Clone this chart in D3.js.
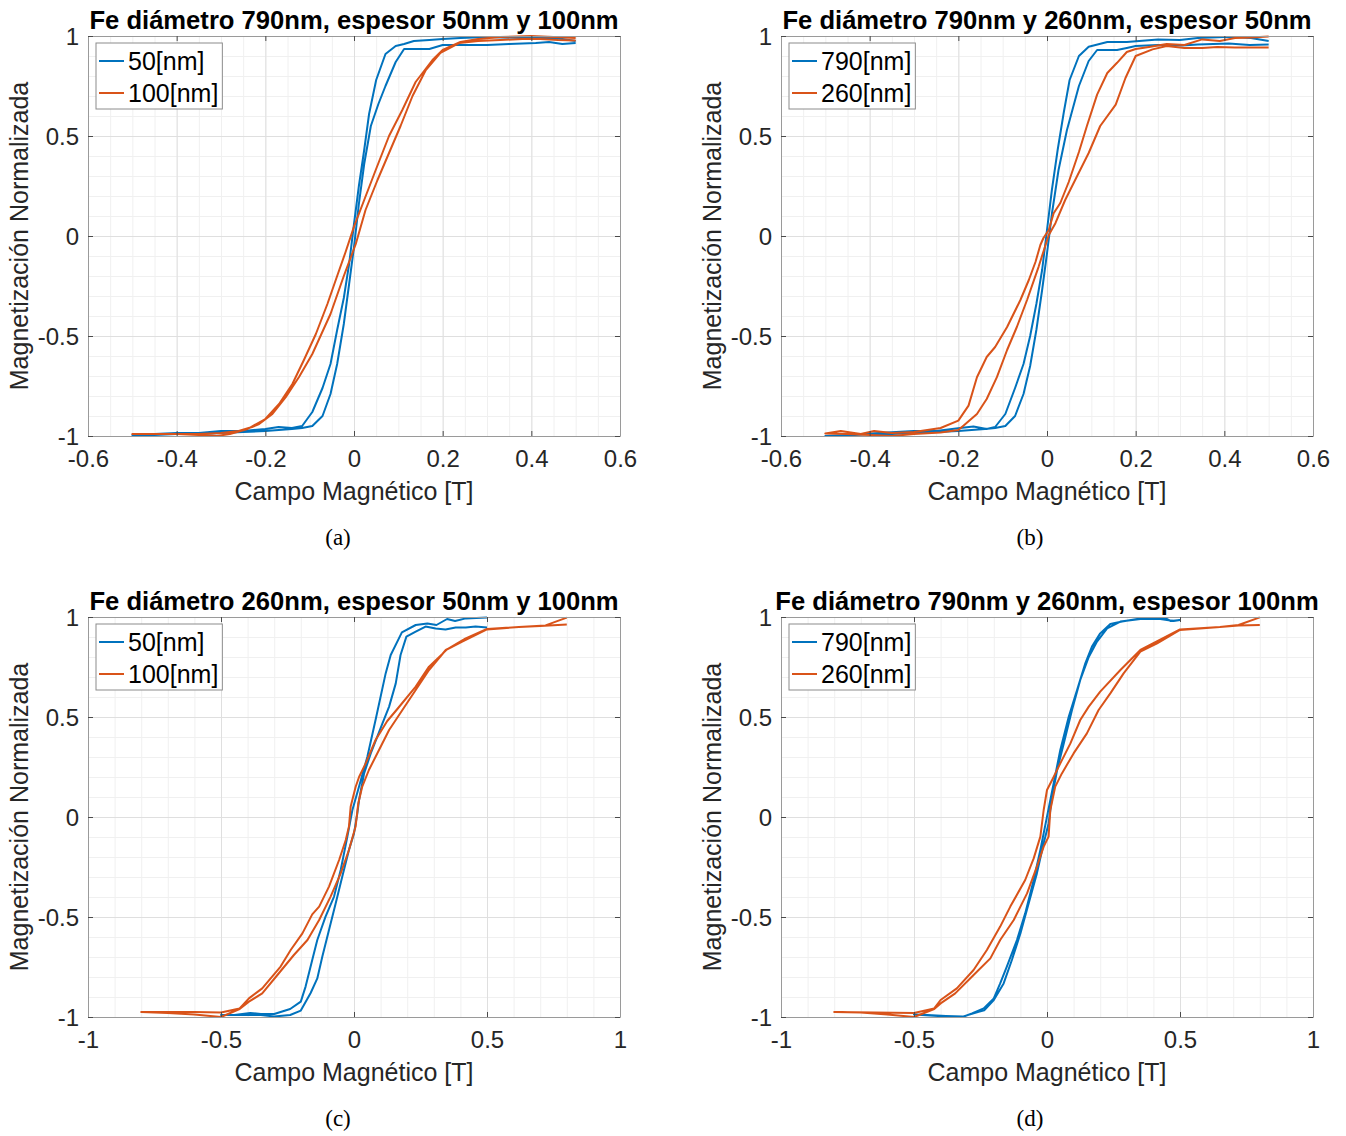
<!DOCTYPE html>
<html>
<head>
<meta charset="utf-8">
<script src="https://cdn.jsdelivr.net/npm/d3@7"></script>
<style>
  body { margin: 0; background: #fff; }
  text { font-family: "Liberation Sans", Arial, sans-serif; }
</style>
</head>
<body>
<script>
// tick values / labels
const yTicks = [-1, -0.5, 0, 0.5, 1];
const xTicksSmall = [-0.6, -0.4, -0.2, 0, 0.2, 0.4, 0.6];
const xTicksLarge = [-1, -0.5, 0, 0.5, 1];

// (a) Fe 790nm, 50nm vs 100nm  -- [campo, magnetizacion], bajada y luego subida
const a50 = [
  [0.5,0.975],[0.47,0.985],[0.44,0.99],[0.38,0.99],[0.3,0.995],[0.24,0.99],[0.2,0.985],[0.17,0.98],[0.135,0.975],
  [0.113,0.96],[0.094,0.95],[0.071,0.91],[0.05,0.78],[0.034,0.61],[0.023,0.43],[0.011,0.25],[0,0.06],[-0.011,-0.14],
  [-0.023,-0.31],[-0.038,-0.47],[-0.053,-0.64],[-0.071,-0.76],[-0.094,-0.88],[-0.117,-0.95],[-0.14,-0.96],[-0.17,-0.955],
  [-0.2,-0.965],[-0.25,-0.975],[-0.3,-0.975],[-0.35,-0.985],[-0.4,-0.985],[-0.45,-0.99],[-0.5,-0.995],
  [-0.45,-0.995],[-0.4,-0.99],[-0.35,-0.99],[-0.3,-0.985],[-0.25,-0.98],[-0.2,-0.975],[-0.17,-0.97],[-0.14,-0.965],
  [-0.117,-0.96],[-0.094,-0.95],[-0.071,-0.9],[-0.053,-0.79],[-0.038,-0.64],[-0.023,-0.44],[-0.011,-0.24],[0,-0.055],
  [0.011,0.16],[0.023,0.36],[0.038,0.55],[0.055,0.66],[0.071,0.75],[0.094,0.87],[0.113,0.935],[0.14,0.935],[0.17,0.935],
  [0.2,0.955],[0.24,0.955],[0.3,0.955],[0.35,0.96],[0.41,0.965],[0.44,0.97],[0.47,0.96],[0.5,0.965]
];
const a100 = [
  [0.5,0.99],[0.45,0.995],[0.4,1.0],[0.33,0.995],[0.28,0.985],[0.24,0.97],[0.2,0.93],[0.177,0.88],[0.139,0.77],
  [0.109,0.63],[0.079,0.5],[0.049,0.33],[0.023,0.18],[0,0.047],[-0.019,-0.08],[-0.038,-0.2],[-0.06,-0.34],[-0.086,-0.49],
  [-0.113,-0.62],[-0.139,-0.74],[-0.169,-0.84],[-0.2,-0.915],[-0.24,-0.965],[-0.28,-0.99],[-0.31,-1.0],[-0.35,-0.995],
  [-0.4,-0.99],[-0.45,-0.99],[-0.5,-0.99],
  [-0.45,-0.99],[-0.4,-0.99],[-0.35,-0.99],[-0.3,-0.985],[-0.26,-0.975],[-0.23,-0.955],[-0.214,-0.94],[-0.184,-0.89],
  [-0.154,-0.806],[-0.124,-0.705],[-0.094,-0.59],[-0.053,-0.39],[-0.023,-0.2],[0.004,-0.04],[0.026,0.13],[0.053,0.28],
  [0.079,0.415],[0.105,0.55],[0.132,0.7],[0.162,0.83],[0.195,0.916],[0.237,0.965],[0.28,0.975],[0.33,0.98],[0.38,0.985],
  [0.42,0.985],[0.46,0.98],[0.5,0.978]
];

// (b) Fe espesor 50nm, 790nm vs 260nm
const b790 = [
  [0.5,0.975],[0.46,0.99],[0.42,0.995],[0.4,0.995],[0.34,0.99],[0.3,0.98],[0.25,0.983],[0.18,0.97],[0.136,0.97],
  [0.094,0.946],[0.072,0.9],[0.051,0.78],[0.038,0.62],[0.024,0.43],[0.011,0.23],[0,0.03],[-0.011,-0.17],[-0.024,-0.34],
  [-0.038,-0.5],[-0.053,-0.64],[-0.072,-0.76],[-0.094,-0.89],[-0.117,-0.955],[-0.136,-0.965],[-0.166,-0.953],[-0.196,-0.96],
  [-0.25,-0.975],[-0.3,-0.975],[-0.38,-0.985],[-0.45,-0.995],[-0.5,-1.0],
  [-0.45,-0.998],[-0.4,-0.99],[-0.35,-0.99],[-0.3,-0.985],[-0.25,-0.98],[-0.2,-0.975],[-0.17,-0.97],[-0.14,-0.965],
  [-0.117,-0.96],[-0.094,-0.95],[-0.072,-0.9],[-0.053,-0.79],[-0.038,-0.65],[-0.024,-0.47],[-0.011,-0.27],[0,-0.087],
  [0.011,0.11],[0.026,0.33],[0.045,0.53],[0.072,0.75],[0.094,0.875],[0.113,0.93],[0.158,0.93],[0.18,0.94],[0.2,0.95],
  [0.25,0.955],[0.305,0.952],[0.34,0.958],[0.41,0.962],[0.457,0.955],[0.5,0.958]
];
const b260 = [
  [0.5,0.997],[0.46,0.993],[0.424,0.99],[0.39,0.975],[0.35,0.983],[0.31,0.955],[0.27,0.96],[0.23,0.945],[0.2,0.935],
  [0.18,0.92],[0.158,0.866],[0.136,0.815],[0.113,0.707],[0.09,0.55],[0.072,0.42],[0.049,0.27],[0.03,0.165],[0.015,0.114],
  [0.004,0.03],[-0.008,-0.01],[-0.015,-0.045],[-0.026,-0.13],[-0.041,-0.22],[-0.06,-0.32],[-0.09,-0.455],[-0.117,-0.555],
  [-0.136,-0.605],[-0.158,-0.706],[-0.177,-0.848],[-0.2,-0.923],[-0.24,-0.96],[-0.3,-0.98],[-0.35,-0.985],[-0.39,-0.975],
  [-0.42,-0.99],[-0.465,-0.975],[-0.5,-0.988],
  [-0.45,-0.99],[-0.4,-0.995],[-0.35,-1.0],[-0.3,-0.99],[-0.24,-0.983],[-0.2,-0.97],[-0.188,-0.948],[-0.158,-0.89],
  [-0.136,-0.815],[-0.113,-0.706],[-0.09,-0.57],[-0.068,-0.455],[-0.045,-0.32],[-0.019,-0.154],[0.004,0.005],[0.019,0.064],
  [0.041,0.18],[0.068,0.3],[0.094,0.415],[0.12,0.55],[0.155,0.657],[0.177,0.79],[0.2,0.9],[0.238,0.933],[0.27,0.95],
  [0.31,0.94],[0.35,0.94],[0.384,0.945],[0.424,0.942],[0.5,0.942]
];

// (c) Fe 260nm, 50nm vs 100nm
const c50 = [
  [0.5,0.998],[0.42,0.993],[0.38,0.98],[0.35,0.99],[0.31,0.96],[0.276,0.968],[0.232,0.96],[0.18,0.923],[0.138,0.81],
  [0.119,0.718],[0.081,0.485],[0.05,0.3],[0.019,0.152],[-0.006,0.035],[-0.025,-0.098],[-0.05,-0.265],[-0.075,-0.398],
  [-0.107,-0.498],[-0.138,-0.615],[-0.157,-0.715],[-0.182,-0.848],[-0.2,-0.923],[-0.24,-0.96],[-0.3,-0.985],[-0.35,-0.985],
  [-0.39,-0.98],[-0.45,-0.99],[-0.5,-0.99],
  [-0.43,-0.99],[-0.35,-0.99],[-0.3,-0.997],[-0.24,-0.99],[-0.2,-0.968],[-0.163,-0.88],[-0.138,-0.807],[-0.119,-0.698],
  [-0.094,-0.565],[-0.069,-0.432],[-0.044,-0.298],[-0.019,-0.165],[0,-0.082],[0.0125,0.018],[0.019,0.085],[0.038,0.218],
  [0.063,0.318],[0.107,0.468],[0.132,0.552],[0.157,0.668],[0.175,0.81],[0.197,0.902],[0.232,0.927],[0.269,0.952],
  [0.307,0.942],[0.344,0.938],[0.382,0.947],[0.42,0.947],[0.457,0.952],[0.5,0.948]
];
const c100 = [
  [0.8,0.963],[0.7,0.955],[0.62,0.95],[0.5,0.94],[0.42,0.893],[0.35,0.838],[0.282,0.752],[0.232,0.652],[0.163,0.54],
  [0.125,0.48],[0.081,0.385],[0.044,0.268],[0.019,0.2],[0.006,0.15],[-0.0125,0.052],[-0.019,-0.048],[-0.031,-0.115],
  [-0.056,-0.215],[-0.094,-0.348],[-0.131,-0.448],[-0.157,-0.487],[-0.194,-0.582],[-0.238,-0.665],[-0.276,-0.748],
  [-0.345,-0.857],[-0.395,-0.907],[-0.43,-0.957],[-0.5,-0.978],[-0.6,-0.975],[-0.7,-0.975],[-0.8,-0.975],
  [-0.7,-0.98],[-0.6,-0.987],[-0.5,-1.0],[-0.43,-0.96],[-0.395,-0.923],[-0.345,-0.882],[-0.288,-0.79],[-0.226,-0.69],
  [-0.175,-0.615],[-0.131,-0.515],[-0.088,-0.398],[-0.05,-0.282],[-0.019,-0.165],[0.006,-0.048],[0.016,0.068],[0.031,0.152],
  [0.056,0.235],[0.094,0.335],[0.132,0.435],[0.182,0.535],[0.232,0.635],[0.282,0.735],[0.345,0.835],[0.407,0.877],
  [0.5,0.938],[0.62,0.95],[0.72,0.958],[0.8,0.997]
];

// (d) Fe espesor 100nm, 790nm vs 260nm
const d790 = [
  [0.5,0.985],[0.465,0.98],[0.45,0.99],[0.414,0.993],[0.339,0.99],[0.282,0.977],[0.238,0.965],[0.2,0.918],[0.169,0.852],
  [0.144,0.768],[0.113,0.635],[0.082,0.502],[0.05,0.335],[0.025,0.168],[0,0.002],[-0.025,-0.165],[-0.05,-0.315],
  [-0.082,-0.482],[-0.113,-0.615],[-0.151,-0.748],[-0.176,-0.832],[-0.2,-0.907],[-0.238,-0.957],[-0.282,-0.982],
  [-0.317,-1.0],[-0.41,-0.995],[-0.5,-0.987],
  [-0.45,-0.99],[-0.38,-0.995],[-0.317,-0.998],[-0.26,-0.975],[-0.236,-0.967],[-0.2,-0.915],[-0.163,-0.832],[-0.132,-0.715],
  [-0.1,-0.582],[-0.069,-0.432],[-0.038,-0.282],[-0.0125,-0.132],[0.006,-0.032],[0.019,0.1],[0.038,0.235],[0.063,0.368],
  [0.094,0.535],[0.125,0.685],[0.157,0.8],[0.188,0.877],[0.226,0.943],[0.276,0.977],[0.351,0.99],[0.426,0.99],
  [0.476,0.98],[0.5,0.985]
];
const d260 = [
  [0.8,0.96],[0.72,0.958],[0.65,0.95],[0.5,0.938],[0.351,0.835],[0.276,0.735],[0.2,0.627],[0.157,0.552],[0.125,0.485],
  [0.088,0.368],[0.05,0.268],[0.025,0.2],[0,0.135],[-0.0125,0.035],[-0.025,-0.098],[-0.05,-0.207],[-0.082,-0.315],
  [-0.138,-0.448],[-0.176,-0.548],[-0.226,-0.665],[-0.276,-0.765],[-0.339,-0.857],[-0.4,-0.915],[-0.424,-0.957],
  [-0.5,-0.98],[-0.65,-0.977],[-0.8,-0.975],
  [-0.7,-0.978],[-0.6,-0.987],[-0.5,-1.0],[-0.424,-0.96],[-0.4,-0.932],[-0.345,-0.882],[-0.276,-0.79],[-0.213,-0.707],
  [-0.176,-0.615],[-0.125,-0.515],[-0.075,-0.382],[-0.038,-0.248],[-0.0125,-0.148],[0.006,-0.098],[0.0125,0.035],
  [0.031,0.152],[0.056,0.218],[0.1,0.318],[0.15,0.418],[0.194,0.535],[0.238,0.618],[0.288,0.718],[0.351,0.827],
  [0.414,0.868],[0.5,0.935],[0.65,0.95],[0.72,0.96],[0.8,0.998]
];

const blue = '#0072BD';
const orange = '#D95319';

const panels = [
  { x0: 88, y0: 36, cap: '(a)', capX: 338, title: 'Fe diámetro 790nm, espesor 50nm y 100nm',
    xDom: [-0.6, 0.6], xTicks: xTicksSmall, xMinor: 0.05,
    series: [{ name: '50[nm]', data: a50, color: blue }, { name: '100[nm]', data: a100, color: orange }] },
  { x0: 781, y0: 36, cap: '(b)', capX: 1030, title: 'Fe diámetro 790nm y 260nm, espesor 50nm',
    xDom: [-0.6, 0.6], xTicks: xTicksSmall, xMinor: 0.05,
    series: [{ name: '790[nm]', data: b790, color: blue }, { name: '260[nm]', data: b260, color: orange }] },
  { x0: 88, y0: 617, cap: '(c)', capX: 338, title: 'Fe diámetro 260nm, espesor 50nm y 100nm',
    xDom: [-1, 1], xTicks: xTicksLarge, xMinor: 0.1,
    series: [{ name: '50[nm]', data: c50, color: blue }, { name: '100[nm]', data: c100, color: orange }] },
  { x0: 781, y0: 617, cap: '(d)', capX: 1030, title: 'Fe diámetro 790nm y 260nm, espesor 100nm',
    xDom: [-1, 1], xTicks: xTicksLarge, xMinor: 0.1,
    series: [{ name: '790[nm]', data: d790, color: blue }, { name: '260[nm]', data: d260, color: orange }] }
];

const W = 532, H = 400;

const svg = d3.select('body').append('svg')
  .attr('width', 1346).attr('height', 1136);

panels.forEach(p => {
  const g = svg.append('g').attr('transform', `translate(${p.x0},${p.y0})`);
  const x = d3.scaleLinear().domain(p.xDom).range([0, W]);
  const y = d3.scaleLinear().domain([-1, 1]).range([H, 0]);

  // minor grid
  const xm = d3.range(p.xDom[0], p.xDom[1] + 1e-9, p.xMinor);
  const ym = d3.range(-1, 1 + 1e-9, 0.1);
  g.append('g').attr('class', 'grid minor').call(d3.axisBottom(x).tickValues(xm).tickSize(H).tickFormat(''))
    .call(s => s.select('.domain').remove())
    .selectAll('line').attr('stroke', '#f0f0f0');
  g.append('g').attr('class', 'grid minor').call(d3.axisLeft(y).tickValues(ym).tickSize(-W).tickFormat(''))
    .call(s => s.select('.domain').remove())
    .selectAll('line').attr('stroke', '#f0f0f0');

  // major grid
  g.append('g').call(d3.axisBottom(x).tickValues(p.xTicks).tickSize(H).tickFormat(''))
    .call(s => s.select('.domain').remove())
    .selectAll('line').attr('stroke', '#dfdfdf');
  g.append('g').call(d3.axisLeft(y).tickValues(yTicks).tickSize(-W).tickFormat(''))
    .call(s => s.select('.domain').remove())
    .selectAll('line').attr('stroke', '#dfdfdf');

  // curves
  const line = d3.line().x(d => x(d[0])).y(d => y(d[1]));
  p.series.forEach(s => {
    g.append('path').datum(s.data)
      .attr('fill', 'none').attr('stroke', s.color)
      .attr('stroke-width', 2).attr('stroke-linejoin', 'round')
      .attr('d', line);
  });

  // axes with inward ticks on all sides
  const fmt = d => String(d);
  const xb = g.append('g').attr('transform', `translate(0,${H})`)
    .call(d3.axisBottom(x).tickValues(p.xTicks).tickSizeInner(-5).tickSizeOuter(0).tickPadding(14).tickFormat(fmt));
  const xt = g.append('g').call(d3.axisTop(x).tickValues(p.xTicks).tickSizeInner(-5).tickSizeOuter(0).tickFormat(''));
  const yl = g.append('g')
    .call(d3.axisLeft(y).tickValues(yTicks).tickSizeInner(-5).tickSizeOuter(0).tickPadding(9).tickFormat(fmt));
  const yr = g.append('g').attr('transform', `translate(${W},0)`)
    .call(d3.axisRight(y).tickValues(yTicks).tickSizeInner(-5).tickSizeOuter(0).tickFormat(''));
  [xb, xt, yl, yr].forEach(a => {
    a.select('.domain').attr('stroke', '#9a9a9a');
    a.selectAll('.tick line').attr('stroke', '#4a4a4a');
    a.selectAll('text').attr('fill', '#262626').style('font-size', '24px')
      .style('font-family', '"Liberation Sans", Arial, sans-serif');
  });
  yl.selectAll('text').attr('dy', '0.36em');

  // title
  g.append('text').attr('x', W / 2).attr('y', -7).attr('text-anchor', 'middle')
    .style('font-size', '25.6px').style('font-weight', 'bold').attr('fill', '#000')
    .text(p.title);

  // axis labels
  g.append('text').attr('x', W / 2).attr('y', H + 64).attr('text-anchor', 'middle')
    .style('font-size', '25px').attr('fill', '#262626').text('Campo Magnético [T]');
  g.append('text').attr('transform', `translate(-60,${H / 2}) rotate(-90)`).attr('text-anchor', 'middle')
    .style('font-size', '25px').attr('fill', '#262626').text('Magnetización Normalizada');

  // legend
  const lg = g.append('g').attr('transform', 'translate(8,7)');
  const box = lg.append('rect').attr('fill', '#fff').attr('stroke', '#8c8c8c').attr('stroke-width', 1);
  let maxW = 0;
  p.series.forEach((s, i) => {
    const cy = 18 + i * 32;
    lg.append('line').attr('x1', 3).attr('x2', 28).attr('y1', cy).attr('y2', cy)
      .attr('stroke', s.color).attr('stroke-width', 2);
    const t = lg.append('text').attr('x', 32).attr('y', cy).attr('dy', '0.35em')
      .style('font-size', '25px').attr('fill', '#000').text(s.name);
    maxW = Math.max(maxW, t.node().getComputedTextLength());
  });
  box.attr('x', 0).attr('y', 0).attr('width', 32 + maxW + 4).attr('height', 66);

  // caption
  svg.append('text').attr('x', p.capX).attr('y', p.y0 + 509).attr('text-anchor', 'middle')
    .style('font-family', '"Liberation Serif", "DejaVu Serif", serif').style('font-size', '23px')
    .attr('fill', '#000').text(p.cap);
});
</script>
</body>
</html>
